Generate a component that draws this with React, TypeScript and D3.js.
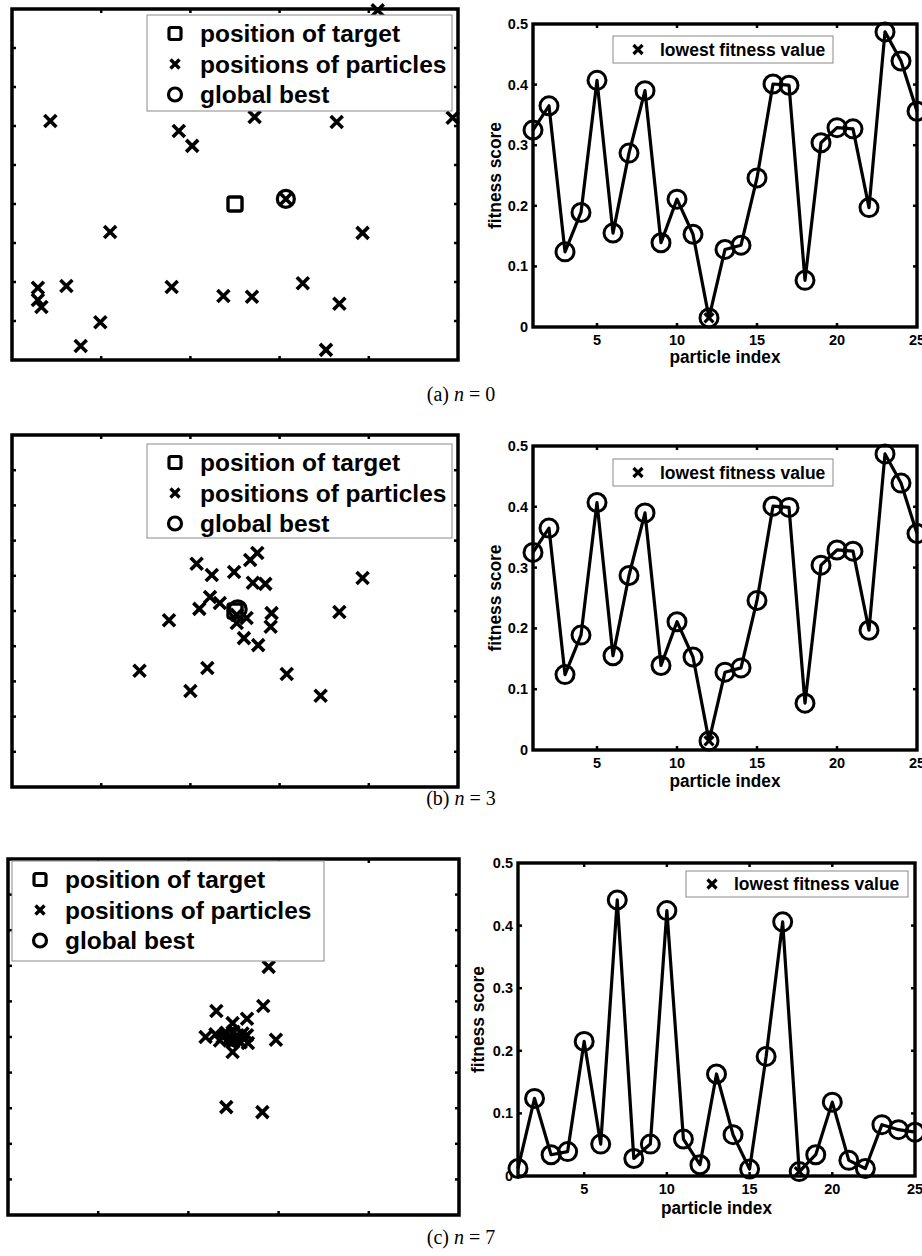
import * as d3 from 'd3'

const SANS = '"Liberation Sans", Arial, Helvetica, sans-serif'
const SERIF = '"Liberation Serif", "Times New Roman", serif'

// particle positions, relative to the target (target sits at 0,0)
const target: [number, number] = [0, 0]

const particlesN0: [number, number][] = [
  [1.6, 4.97], [-2.07, 2.13], [-0.63, 1.87], [-0.48, 1.49], [0.22, 2.23],
  [1.14, 2.1], [2.44, 2.21], [-1.4, -0.72], [1.43, -0.74], [-2.21, -2.15],
  [-2.21, -2.46], [-2.17, -2.64], [-1.89, -2.1], [-0.71, -2.13], [-0.13, -2.36],
  [0.19, -2.38], [0.76, -2.03], [1.17, -2.56], [-1.51, -3.03], [-1.73, -3.64],
  [1.02, -3.74], [0.57, 0.13],
]
const gbestN0: [number, number] = [0.57, 0.13]

const particlesN3: [number, number][] = [
  [-0.43, 1.34], [-0.26, 1.02], [-0.01, 1.11], [0.17, 1.45], [0.25, 1.65],
  [0.2, 0.8], [0.34, 0.77], [-0.28, 0.4], [-0.17, 0.23], [-0.4, 0.06],
  [-0.74, -0.26], [0.13, -0.2], [0.02, -0.34], [0.02, -0.11], [0.41, -0.06],
  [0.4, -0.45], [0.1, -0.77], [0.26, -0.97], [1.43, 0.94], [1.17, -0.03],
  [-1.07, -1.7], [-0.31, -1.62], [-0.5, -2.27], [0.58, -1.79], [0.96, -2.41],
]
const gbestN3: [number, number] = [0.03, 0.05]

const particlesN7: [number, number][] = [
  [0.39, 1.97], [0.33, 0.87], [-0.19, 0.73], [0.15, 0.51], [-0.01, 0.39],
  [-0.31, 0.0], [0.47, -0.08], [0.16, -0.17], [-0.01, -0.42], [-0.08, -1.97],
  [0.32, -2.11], [-0.1, 0.05], [0.05, -0.1], [0.1, 0.1], [-0.05, -0.05],
  [0.0, 0.15], [-0.15, -0.1], [0.12, -0.02], [-0.08, 0.12], [0.03, 0.02],
  [0.08, -0.15], [-0.12, 0.0], [0.0, -0.12], [0.15, 0.05], [-0.2, 0.08],
]
const gbestN7: [number, number] = [0.0, 0.0]

const swarmXTicks = [-1.5, -0.5, 0.5, 1.5]

// fitness of each particle
const particleIndex = [1, 2, 3, 4, 5, 6, 7, 8, 9, 10, 11, 12, 13, 14, 15, 16, 17, 18, 19, 20, 21, 22, 23, 24, 25]
const fitnessN0 = [0.325, 0.365, 0.124, 0.189, 0.407, 0.155, 0.287, 0.39, 0.139, 0.211, 0.153, 0.015, 0.128,
  0.135, 0.246, 0.401, 0.399, 0.077, 0.304, 0.329, 0.327, 0.197, 0.487, 0.439, 0.356]
const fitnessN3 = [0.325, 0.365, 0.124, 0.189, 0.407, 0.155, 0.287, 0.39, 0.139, 0.211, 0.153, 0.015, 0.128,
  0.135, 0.246, 0.401, 0.399, 0.077, 0.304, 0.329, 0.327, 0.197, 0.487, 0.439, 0.356]
const fitnessN7 = [0.012, 0.124, 0.034, 0.039, 0.215, 0.051, 0.441, 0.028, 0.051, 0.424, 0.059, 0.018, 0.163,
  0.066, 0.011, 0.191, 0.406, 0.007, 0.034, 0.118, 0.025, 0.012, 0.082, 0.074, 0.07]
const fitnessTicks = [0, 0.1, 0.2, 0.3, 0.4, 0.5]
const indexTicks = [5, 10, 15, 20, 25]

const legendLabels = ['position of target', 'positions of particles', 'global best']

type Box = { x0: number; x1: number; y0: number; y1: number }
type Rect = { x: number; y: number; w: number; h: number }

function XMark({ x, y, r, w }: { x: number; y: number; r: number; w: number }) {
  return (
    <path d={`M${x - r},${y - r}L${x + r},${y + r}M${x - r},${y + r}L${x + r},${y - r}`}
      stroke="#000" strokeWidth={w} fill="none" />
  )
}

function SwarmPanel({ box, yDomain, particles, gbest, legend, markerX, textX }: {
  box: Box; yDomain: [number, number]; particles: [number, number][]; gbest: [number, number]
  legend: Rect; markerX: number; textX: number
}) {
  const x = d3.scaleLinear().domain([-2.5, 2.5]).range([box.x0, box.x1])
  const y = d3.scaleLinear().domain(yDomain).range([box.y1, box.y0])
  const yTicks = y.ticks(10).filter(t => t > yDomain[0] && t < yDomain[1])
  const tl = 4
  return (
    <g>
      {swarmXTicks.map(t => (
        <g key={'x' + t}>
          <line x1={x(t)} x2={x(t)} y1={box.y1} y2={box.y1 - tl} stroke="#000" strokeWidth={2.5} />
          <line x1={x(t)} x2={x(t)} y1={box.y0} y2={box.y0 + tl} stroke="#000" strokeWidth={2.5} />
        </g>
      ))}
      {yTicks.map(t => (
        <g key={'y' + t}>
          <line x1={box.x0} x2={box.x0 + tl} y1={y(t)} y2={y(t)} stroke="#000" strokeWidth={2.5} />
          <line x1={box.x1} x2={box.x1 - tl} y1={y(t)} y2={y(t)} stroke="#000" strokeWidth={2.5} />
        </g>
      ))}
      {particles.map((p, i) => <XMark key={i} x={x(p[0])} y={y(p[1])} r={6} w={3.6} />)}
      <rect x={x(target[0]) - 7} y={y(target[1]) - 7} width={14} height={14} rx={2}
        fill="none" stroke="#000" strokeWidth={3.4} />
      <circle cx={x(gbest[0])} cy={y(gbest[1])} r={8.5} fill="none" stroke="#000" strokeWidth={3.2} />
      <rect x={box.x0} y={box.y0} width={box.x1 - box.x0} height={box.y1 - box.y0}
        fill="none" stroke="#000" strokeWidth={3.5} />
      <rect x={legend.x} y={legend.y} width={legend.w} height={legend.h} fill="#fff" stroke="#8a8a8a" strokeWidth={1} />
      {legendLabels.map((lab, i) => {
        const cy = legend.y + 18.5 + i * 30.5
        return (
          <g key={lab}>
            {i === 0 && <rect x={markerX - 6} y={cy - 6} width={12} height={12} rx={2} fill="none" stroke="#000" strokeWidth={3.2} />}
            {i === 1 && <XMark x={markerX} y={cy} r={4.5} w={3.4} />}
            {i === 2 && <circle cx={markerX} cy={cy} r={6.5} fill="none" stroke="#000" strokeWidth={3.2} />}
            <text x={textX} y={cy + 8.5} fontFamily={SANS} fontWeight="bold" fontSize={24.5}>{lab}</text>
          </g>
        )
      })}
    </g>
  )
}

function FitnessPanel({ box, values, legend, markerX, textX, tickBase, labelBase, yLabelX }: {
  box: Box; values: number[]; legend: Rect; markerX: number; textX: number
  tickBase: number; labelBase: number; yLabelX: number
}) {
  const x = d3.scaleLinear().domain([1, 25]).range([box.x0, box.x1])
  const y = d3.scaleLinear().domain([0, 0.5]).range([box.y1, box.y0])
  const line = d3.line<number>().x((_, i) => x(particleIndex[i])).y(v => y(v))
  const minIdx = d3.minIndex(values)
  const tl = 4
  return (
    <g>
      {indexTicks.filter(t => t < 25).map(t => (
        <g key={'x' + t}>
          <line x1={x(t)} x2={x(t)} y1={box.y1} y2={box.y1 - tl} stroke="#000" strokeWidth={2.5} />
          <line x1={x(t)} x2={x(t)} y1={box.y0} y2={box.y0 + tl} stroke="#000" strokeWidth={2.5} />
        </g>
      ))}
      {fitnessTicks.slice(1, -1).map(t => (
        <g key={'y' + t}>
          <line x1={box.x0} x2={box.x0 + tl} y1={y(t)} y2={y(t)} stroke="#000" strokeWidth={2.5} />
          <line x1={box.x1} x2={box.x1 - tl} y1={y(t)} y2={y(t)} stroke="#000" strokeWidth={2.5} />
        </g>
      ))}
      <rect x={box.x0} y={box.y0} width={box.x1 - box.x0} height={box.y1 - box.y0}
        fill="none" stroke="#000" strokeWidth={3.4} />
      <rect x={legend.x} y={legend.y} width={legend.w} height={legend.h} fill="#fff" stroke="#8a8a8a" strokeWidth={1} />
      <XMark x={markerX} y={legend.y + legend.h / 2} r={4.5} w={3.2} />
      <text x={textX} y={legend.y + legend.h / 2 + 6} fontFamily={SANS} fontWeight="bold" fontSize={17.5}>lowest fitness value</text>
      <path d={line(values) ?? ''} fill="none" stroke="#000" strokeWidth={3.2} strokeLinejoin="round" />
      {values.map((v, i) => (
        <circle key={i} cx={x(particleIndex[i])} cy={y(v)} r={9} fill="none" stroke="#000" strokeWidth={3} />
      ))}
      <XMark x={x(particleIndex[minIdx])} y={y(values[minIdx])} r={4.5} w={3} />
      {fitnessTicks.map(t => (
        <text key={'yl' + t} x={box.x0 - 5} y={y(t) + 5} textAnchor="end" fontFamily={SANS}
          fontWeight="bold" fontSize={14.5}>{t === 0 ? '0' : t.toFixed(1)}</text>
      ))}
      {indexTicks.map(t => (
        <text key={'xl' + t} x={x(t)} y={tickBase} textAnchor="middle" fontFamily={SANS}
          fontWeight="bold" fontSize={14.5}>{t}</text>
      ))}
      <text x={(box.x0 + box.x1) / 2} y={labelBase} textAnchor="middle" fontFamily={SANS}
        fontWeight="bold" fontSize={17.5} textLength={111} lengthAdjust="spacingAndGlyphs">particle index</text>
      <text transform={`translate(${yLabelX},${(box.y0 + box.y1) / 2}) rotate(-90)`} y={6} textAnchor="middle"
        fontFamily={SANS} fontWeight="bold" fontSize={17.5} textLength={107} lengthAdjust="spacingAndGlyphs">fitness score</text>
    </g>
  )
}

function Caption({ y, tag, n }: { y: number; tag: string; n: string }) {
  return (
    <text x={461} y={y} textAnchor="middle" fontFamily={SERIF} fontSize={20}>
      {`(${tag})\u00a0`}<tspan fontStyle="italic">n</tspan>{` = ${n}`}
    </text>
  )
}

export default function App() {
  return (
    <svg width={922} height={1256} style={{ position: 'absolute', left: 0, top: 0, background: '#fff' }}>
      <rect width={922} height={1256} fill="#fff" />
      <SwarmPanel box={{ x0: 12, x1: 458, y0: 9, y1: 360 }} yDomain={[-4, 5]} particles={particlesN0} gbest={gbestN0}
        legend={{ x: 147, y: 15, w: 305, h: 96 }} markerX={175} textX={200} />
      <FitnessPanel box={{ x0: 533, x1: 917, y0: 24, y1: 327 }} values={fitnessN0}
        legend={{ x: 613, y: 36, w: 220, h: 27 }} markerX={638} textX={660} tickBase={345} labelBase={363} yLabelX={495} />
      <Caption y={401} tag="a" n="0" />

      <SwarmPanel box={{ x0: 12, x1: 458, y0: 435, y1: 787 }} yDomain={[-5, 5]} particles={particlesN3} gbest={gbestN3}
        legend={{ x: 147, y: 444, w: 305, h: 94 }} markerX={175} textX={200} />
      <FitnessPanel box={{ x0: 533, x1: 917, y0: 446, y1: 750 }} values={fitnessN3}
        legend={{ x: 613, y: 459, w: 220, h: 27 }} markerX={638} textX={660} tickBase={768} labelBase={787} yLabelX={495} />
      <Caption y={805} tag="b" n="3" />

      <SwarmPanel box={{ x0: 8, x1: 459, y0: 859, y1: 1215 }} yDomain={[-5, 5]} particles={particlesN7} gbest={gbestN7}
        legend={{ x: 12, y: 861, w: 312, h: 100 }} markerX={40} textX={65} />
      <FitnessPanel box={{ x0: 518, x1: 915, y0: 863, y1: 1176 }} values={fitnessN7}
        legend={{ x: 686, y: 871, w: 222, h: 26 }} markerX={712} textX={734} tickBase={1194} labelBase={1214} yLabelX={478} />
      <Caption y={1244} tag="c" n="7" />
    </svg>
  )
}
